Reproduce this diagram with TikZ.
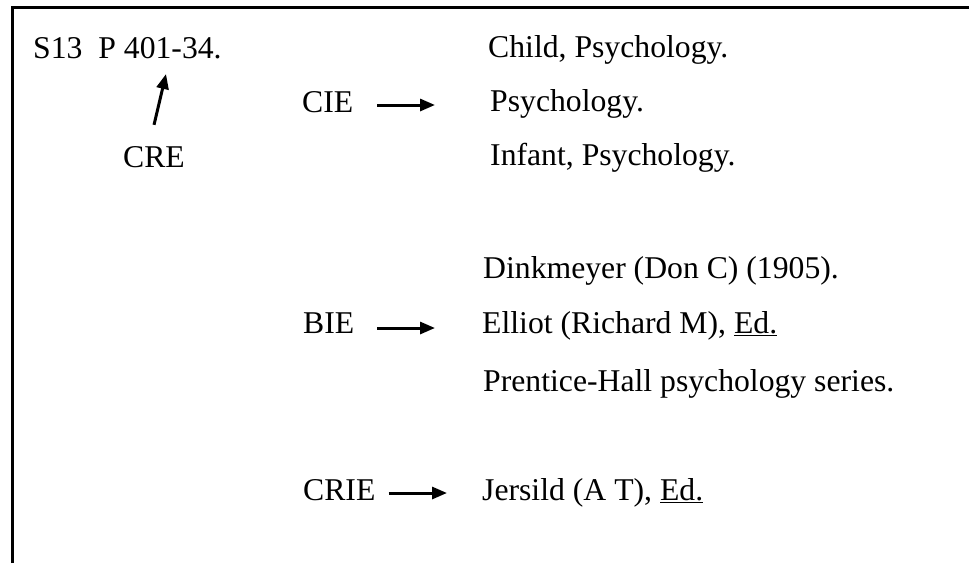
\documentclass[tikz,border=0pt]{standalone}
\usepackage{fontspec}
\setmainfont{LiberationSerif}[Extension=.ttf,UprightFont=*-Regular,BoldFont=*-Bold,ItalicFont=*-Italic,BoldItalicFont=*-BoldItalic]
\usetikzlibrary{arrows.meta}
\begin{document}
\begin{tikzpicture}[x=1pt,y=-1pt,
  txt/.style={anchor=base west,inner sep=0pt,font=\fontsize{31.7}{38}\selectfont},
  arr/.style={line width=3pt,-{Triangle[length=15pt,width=12pt]}},
  frame/.style={line width=2.8pt}]
\useasboundingbox (0,0) rectangle (969,563);
\draw[frame] (12.5,563) -- (12.5,7.5) -- (969,7.5);

\node[txt] (s13) at (33,58) {S13\ \ P 401-34.};
\node[txt] (cre) at (123,167) {CRE};
\node[txt] (cie) at (302,112) {CIE};
\node[txt] (child) at (488,57) {Child, Psychology.};
\node[txt] (psy) at (490,111) {Psychology.};
\node[txt] (inf) at (490,165) {Infant, Psychology.};

\node[txt] (dink) at (483,278) {Dinkmeyer (Don C) (1905).};
\node[txt] (bie) at (303,333) {BIE};
\node[txt] (elliot) at (482,333) {Elliot (Richard M), \underline{Ed.}};
\node[txt] (prent) at (483,391) {Prentice-Hall psychology series.};

\node[txt] (crie) at (303,500) {CRIE};
\node[txt] (jers) at (482,500) {Jersild (A T), \underline{Ed.}};

\draw[arr] ([shift={(0,-21)}]cre.north) -- ([shift={(133,16)}]s13.base west);
\draw[arr] ([shift={(24,-7)}]cie.base east) -- ([shift={(-55,-6)}]psy.base west);
\draw[arr] ([shift={(23,-5)}]bie.base east) -- ([shift={(-47,-5)}]elliot.base west);
\draw[arr] ([shift={(13,-7)}]crie.base east) -- ([shift={(-35,-7)}]jers.base west);
\end{tikzpicture}
\end{document}
